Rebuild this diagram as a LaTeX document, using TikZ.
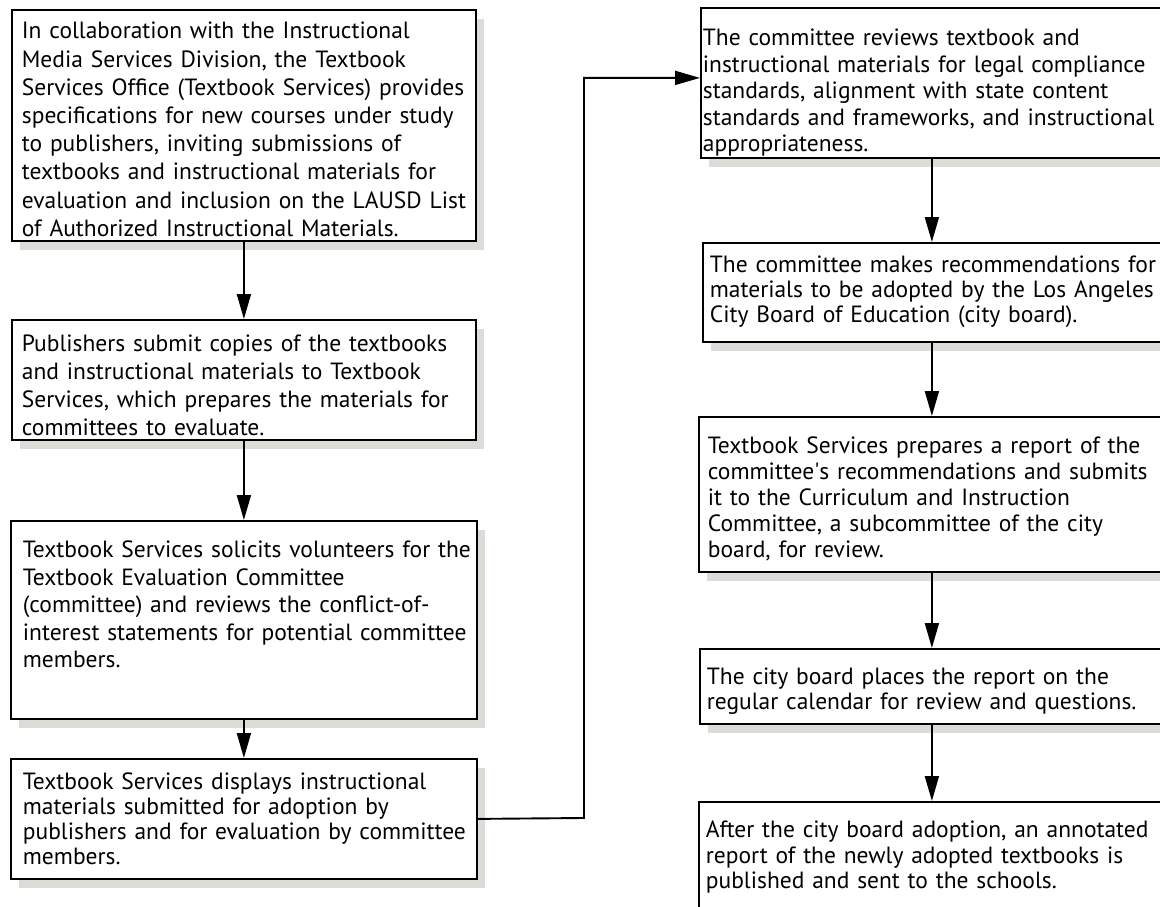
\documentclass[tikz,border=0pt]{standalone}
\usepackage{fontspec}
\setmainfont{PT Sans}
\usetikzlibrary{arrows.meta,shadows}
\definecolor{shadowgray}{RGB}{220,221,216}

\tikzstyle{stage} = [rectangle, anchor=north west, align=left, inner xsep=0pt, inner ysep=0pt, draw=black, line width=1.8pt, fill=white, drop shadow={shadow xshift=8pt, shadow yshift=-9pt, fill=shadowgray, opacity=1}]
\tikzstyle{flow} = [-{Triangle[length=25pt,width=14pt]}, line width=1.9pt]
\tikzset{lead/.style={font=\fontsize{23.5}{#1}\selectfont},
  margin/.style={execute at begin node={\leftskip=#1\relax\rightskip=0pt plus 1fil minus 1000pt\relax}}}

\begin{document}
\begin{tikzpicture}[x=1pt,y=-1pt]
\useasboundingbox (0,0) rectangle (1160,907);

%Left column
\node (B1) [stage, lead=28.2, margin=10pt, text width=464pt, text height=29pt, text depth=202pt] at (11,9) {In collaboration with the Instructional\\ Media Services Division, the Textbook\\ Services Office (Textbook Services) provides\\ specifications for new courses under study\\ to publishers, inviting submissions of\\ textbooks and instructional materials for\\ evaluation and inclusion on the LAUSD List\\ of Authorized Instructional Materials.};
\node (B2) [stage, lead=28, margin=10pt, text width=464pt, text height=32pt, text depth=88pt] at (11,319) {Publishers submit copies of the textbooks\\ and instructional materials to Textbook\\ Services, which prepares the materials for\\ committees to evaluate.};
\node (B3) [stage, lead=27.5, margin=12pt, text width=466pt, text height=37pt, text depth=161pt] at (10,520) {Textbook Services solicits volunteers for the\\ Textbook Evaluation Committee\\ (committee) and reviews the conflict-of-\\ interest statements for potential committee\\ members.};
\node (B4) [stage, lead=25, margin=12pt, text width=466pt, text height=31pt, text depth=89pt] at (10,758) {Textbook Services displays instructional\\ materials submitted for adoption by\\ publishers and for evaluation by committee\\ members.};

%Right column
\node (R1) [stage, lead=26.5, margin=2pt, text width=462pt, text height=38pt, text depth=112pt] at (700,7) {The committee reviews textbook and\\ instructional materials for legal compliance\\ standards, alignment with state content\\ standards and frameworks, and instructional\\ appropriateness.};
\node (R2) [stage, lead=25, margin=7pt, text width=458pt, text height=30pt, text depth=69pt] at (702,242) {The committee makes recommendations for\\ materials to be adopted by the Los Angeles\\ City Board of Education (city board).};
\node (R3) [stage, lead=26, margin=9pt, text width=466pt, text height=37pt, text depth=118pt] at (698,416) {Textbook Services prepares a report of the\\ committee\textquotesingle s recommendations and submits\\ it to the Curriculum and Instruction\\ Committee, a subcommittee of the city\\ board, for review.};
\node (R4) [stage, lead=25, margin=7pt, text width=464pt, text height=36pt, text depth=39pt] at (699,648) {The city board places the report on the\\ regular calendar for review and questions.};
\node (R5) [stage, lead=25.3, margin=7pt, text width=466pt, text height=36pt, text depth=110pt] at (698,801) {After the city board adoption, an annotated\\ report of the newly adopted textbooks is\\ published and sent to the schools.};

%Arrows
\draw [flow] (B1.south) -- (B1.south |- B2.north);
\draw [flow] (B2.south) -- (B2.south |- B3.north);
\draw [flow] (B3.south) -- (B3.south |- B4.north);
\coordinate (jog) at (584,818);
\draw [flow] (B4.east) -- (jog) |- ([yshift=5pt]R1.west);
\draw [flow] (R1.south) -- (R1.south |- R2.north);
\draw [flow] (R2.south) -- (R2.south |- R3.north);
\draw [flow] (R3.south) -- (R3.south |- R4.north);
\draw [flow] (R4.south) -- (R4.south |- R5.north);

\end{tikzpicture}
\end{document}
